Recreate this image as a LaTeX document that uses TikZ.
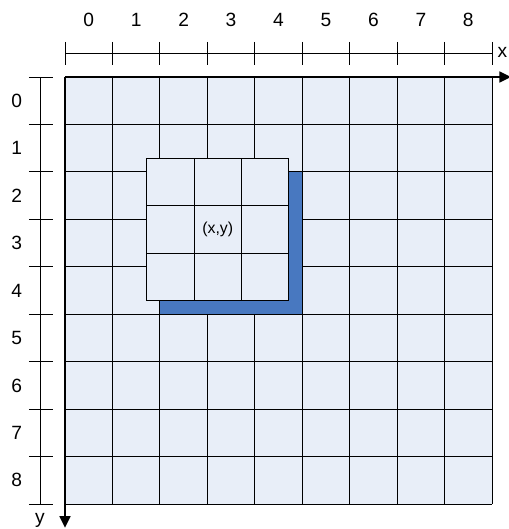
\documentclass[tikz,border=0pt]{standalone}
\usepackage{fontspec}
\setmainfont{Liberation Sans}
\usetikzlibrary{arrows.meta}
\definecolor{cellfill}{RGB}{232,238,248}
\definecolor{shadowblue}{RGB}{72,120,192}

\begin{document}
\begin{tikzpicture}[x=1cm, y=-1cm, >={Triangle[length=7pt,width=6.5pt]},
    gridline/.style={black, line width=0.6pt},
    axisline/.style={black, line width=1.2pt},
    ticklabel/.style={font=\fontsize{11.5}{13}\selectfont, inner sep=0pt}]
  \useasboundingbox (-1.37,-1.623) rectangle (9.357,9.526);
  % Image grid
  \fill[cellfill] (0,0) rectangle (9,9);
  \draw[gridline] (0,0) grid (9,9);
  % Shadow of the window
  \fill[shadowblue] (2,2) rectangle (5,5);
  % 3x3 window around (x,y)
  \begin{scope}[shift={(1.72,1.71)}]
    \filldraw[gridline, fill=cellfill] (0,0) rectangle (3,3);
    \draw[gridline] (0,0) grid (3,3);
    \node[font=\fontsize{9.5}{11}\selectfont] (center) at (1.5,1.5) {(x,y)};
  \end{scope}
  % Top ruler
  \draw[gridline] (0,-0.5) -- (9,-0.5);
  \foreach \i in {0,...,9}
    \draw[gridline] (\i,-0.74) -- (\i,-0.25);
  \foreach \i in {0,...,8}
    \node[ticklabel] (col\i) at (\i+0.5,-1.2) {\i};
  % Left ruler
  \draw[gridline] (-0.506,0) -- (-0.506,9);
  \foreach \j in {0,...,9}
    \draw[gridline] (-0.76,\j) -- (-0.25,\j);
  \foreach \j in {0,...,8}
    \node[ticklabel] (row\j) at (-1.02,\j+0.5) {\j};
  % Axes
  \coordinate (origin) at (0,0);
  \coordinate (xend) at (9.4,0);
  \coordinate (yend) at (0,9.5);
  \draw[axisline,->] (origin) -- (xend);
  \draw[axisline,->] (origin) -- (yend);
  \node[ticklabel] (xlabel) at (9.22,-0.52) {x};
  \node[ticklabel] (ylabel) at (-0.53,9.34) {y};
\end{tikzpicture}
\end{document}
